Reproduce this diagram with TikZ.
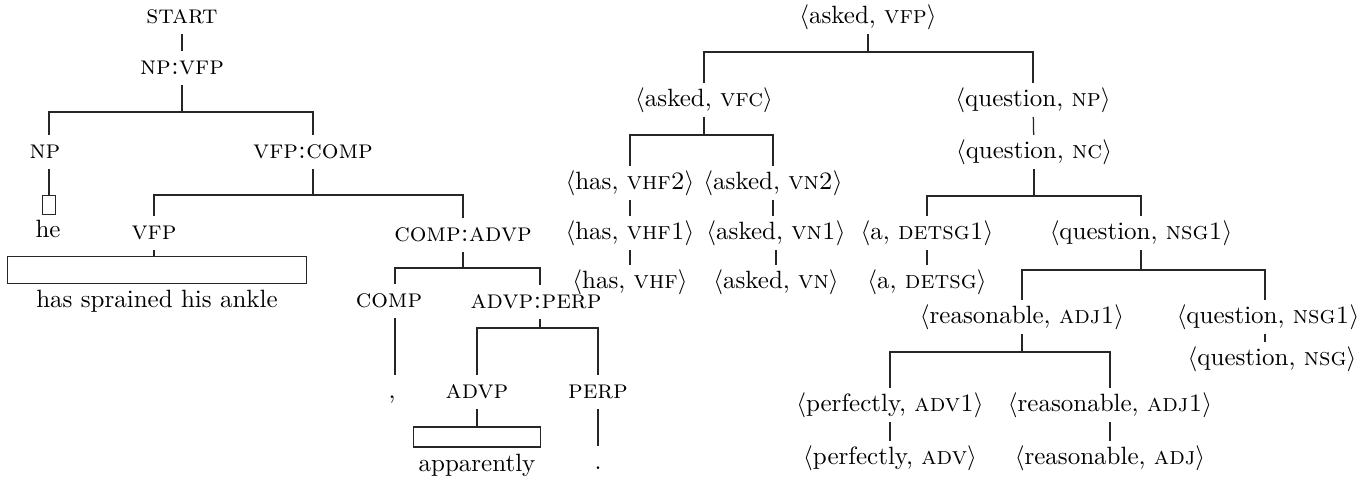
\documentclass[tikz,border=0pt]{standalone}
\newcommand\tpair[2]{$\langle$#1, \textsc{#2}$\rangle$}
\begin{document}
\begin{tikzpicture}[x=0.4pt,y=-0.4pt,
  every node/.style={inner xsep=0pt, inner ysep=1.6pt, text height=7.5pt, text depth=2.5pt},
  lbl/.style={font=\fontsize{10.5}{12.5}\selectfont\scshape},
  ln/.style={draw=black!85, line width=0.5pt},
  wbox/.style={draw=black!85, line width=0.5pt, text height=, text depth=, inner sep=0pt}]
\useasboundingbox (0,0) rectangle (1361,491);
% ---------- left tree ----------
\node[lbl] (start) at (182,17) {start};
\node[lbl] (npvfp) at (182,68) {np:vfp};
\node[lbl] (np) at (45,152) {np};
\node[lbl] (vfpcomp) at (313,152) {vfp:comp};
\node[wbox, minimum width=5.2pt, minimum height=7.6pt] (hebox) at (49,205) {};
\node (he) at (48,231) {he};
\node[lbl] (vfp) at (154,233) {vfp};
\node[lbl] (compadvp) at (463,235) {comp:advp};
\node[wbox, minimum width=119.6pt, minimum height=11pt] (bigbox) at (157,270) {};
\node (has) at (157,301) {has sprained his ankle};
\node[lbl] (comp) at (389,301) {comp};
\node[lbl] (advpperp) at (536,302) {advp:perp};
\node (comma) at (392,392) {,};
\node[lbl] (advp) at (477,392) {advp};
\node[lbl] (perp) at (598,392) {perp};
\node[wbox, minimum width=50.8pt, minimum height=8pt] (appbox) at (477,437) {};
\node (app) at (477,465) {apparently};
\node (period) at (598,463) {.};
\coordinate (l1) at (npvfp.south |- 0,112);
\coordinate (l2) at (vfpcomp.south |- 0,195);
\coordinate (l3) at (compadvp.south |- 0,268);
\coordinate (l4) at (advpperp.south |- 0,328);
\draw[ln] (start) -- (npvfp);
\draw[ln] (npvfp) -- (l1);
\draw[ln] ([xshift=1.6pt]np.north) |- (l1) -| (vfpcomp.north);
\draw[ln] ([xshift=1.6pt]np.south) -- ([xshift=1.6pt]np.south |- hebox.north);
\draw[ln] (vfpcomp) -- (l2);
\draw[ln] (vfp.north) |- (l2) -| (compadvp.north);
\draw[ln] (vfp) -- (vfp.south |- bigbox.north);
\draw[ln] (compadvp) -- (l3);
\draw[ln] ([xshift=2.4pt]comp.north) |- (l3) -| ([xshift=1.6pt]advpperp.north);
\draw[ln] ([xshift=2.4pt]comp.south) -- ([xshift=2.4pt]comp.south |- comma.north);
\draw[ln] ([xshift=1.6pt]advpperp.south) -- ([xshift=1.6pt]advpperp.south |- l4);
\draw[ln] (advp.north) |- ([xshift=1.6pt]advpperp.south |- l4) -| (perp.north);
\draw[ln] (advp) -- (appbox);
\draw[ln] (perp) -- (period);
% ---------- right tree ----------
\node (avfp) at (868,17) {\tpair{asked}{vfp}};
\node (avfc) at (704,100) {\tpair{asked}{vfc}};
\node (qnp) at (1033,100) {\tpair{question}{np}};
\node (qnc) at (1034,152) {\tpair{question}{nc}};
\node (hvhf2) at (630,183) {\tpair{has}{vhf2}};
\node (avn2) at (773,183) {\tpair{asked}{vn2}};
\node (hvhf1) at (630,233) {\tpair{has}{vhf1}};
\node (avn1) at (776,233) {\tpair{asked}{vn1}};
\node (hvhf) at (630,282) {\tpair{has}{vhf}};
\node (avn) at (776,282) {\tpair{asked}{vn}};
\node (adet1) at (927,233) {\tpair{a}{detsg1}};
\node (adet) at (927,282) {\tpair{a}{detsg}};
\node (qnsg1) at (1141,233) {\tpair{question}{nsg1}};
\node (radj1) at (1022,317) {\tpair{reasonable}{adj1}};
\node (qnsg1b) at (1268,317) {\tpair{question}{nsg1}};
\node (qnsg) at (1272,359) {\tpair{question}{nsg}};
\node (padv1) at (890,405) {\tpair{perfectly}{adv1}};
\node (radj1b) at (1110,405) {\tpair{reasonable}{adj1}};
\node (padv) at (890,458) {\tpair{perfectly}{adv}};
\node (radj) at (1110,458) {\tpair{reasonable}{adj}};
\coordinate (r1) at (avfp.south |- 0,52);
\coordinate (r2) at (avfc.south |- 0,135);
\coordinate (r3) at (qnc.south |- 0,196);
\coordinate (r4) at (qnsg1.south |- 0,270);
\coordinate (r5) at (radj1.south |- 0,352);
\draw[ln] (avfp) -- (r1);
\draw[ln] (avfc.north) |- (r1) -| (qnp.north);
\draw[ln] (avfc) -- (r2);
\draw[ln] (hvhf2.north) |- (r2) -| (avn2.north);
\draw[ln] (hvhf2) -- (hvhf1);
\draw[ln] (hvhf1) -- (hvhf);
\draw[ln] (avn2) -- (avn2.south |- avn1.north);
\draw[ln] (avn1) -- (avn);
\draw[ln] (qnp) -- (qnc);
\draw[ln] (qnc) -- (r3);
\draw[ln] (adet1.north) |- (r3) -| (qnsg1.north);
\draw[ln] (adet1) -- (adet);
\draw[ln] (qnsg1) -- (r4);
\draw[ln] (radj1.north) |- (r4) -| ([xshift=-1.2pt]qnsg1b.north);
\draw[ln] ([xshift=-1.2pt]qnsg1b.south) -- ([xshift=-1.2pt]qnsg1b.south |- qnsg.north);
\draw[ln] (radj1) -- (r5);
\draw[ln] (padv1.north) |- (r5) -| (radj1b.north);
\draw[ln] (padv1) -- (padv);
\draw[ln] (radj1b) -- (radj);
\end{tikzpicture}
\end{document}
